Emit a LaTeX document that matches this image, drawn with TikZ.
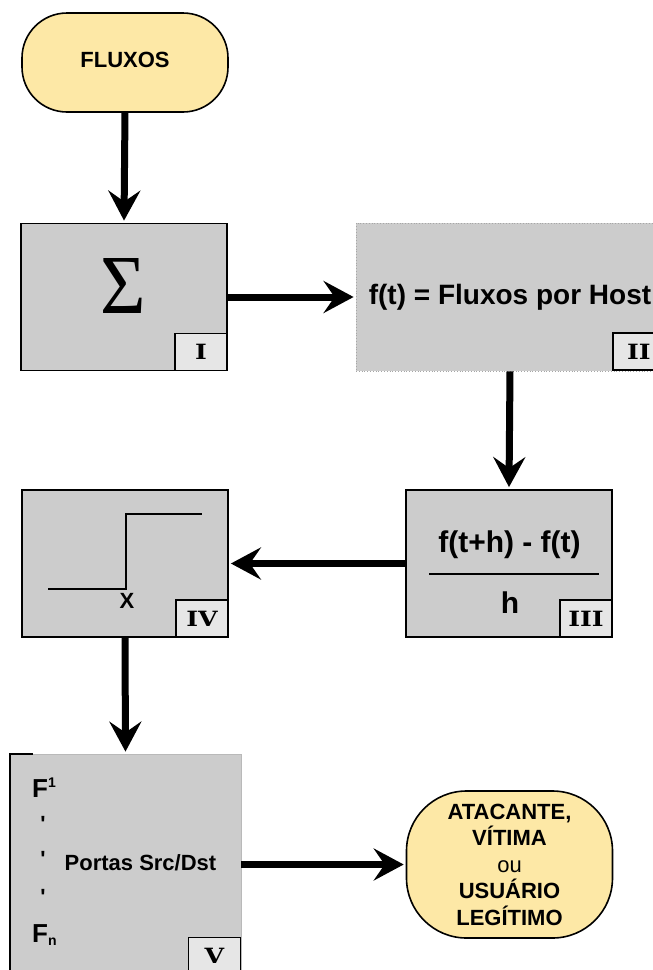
\documentclass[tikz,border=0pt]{standalone}
\usepackage{fontspec}
\setmainfont{Liberation Sans}
\newfontfamily\numfont{DejaVu Serif}
\newfontfamily\sigmafont{Liberation Serif}
\usetikzlibrary{arrows.meta}

\definecolor{termfill}{HTML}{FDE8A6}
\definecolor{boxfill}{HTML}{CCCCCC}
\definecolor{tagfill}{HTML}{E6E6E6}

% wide bold serif numerals for the stage tags
\newcommand\tagnum[1]{\scalebox{1.2}[1]{#1}}

\begin{document}
\begin{tikzpicture}[x=1pt,y=-1pt,
  terminal/.style={draw=black, line width=1.6pt, fill=termfill,
    minimum width=206pt, inner sep=0pt, align=center,
    font=\fontsize{22}{26.5}\selectfont\bfseries},
  stage/.style={draw=black, line width=1.8pt, fill=boxfill,
    minimum width=206pt, minimum height=147pt, inner sep=0pt},
  tag/.style={draw=black, line width=1.8pt, fill=tagfill,
    minimum width=52pt, minimum height=37pt, inner sep=0pt,
    font=\numfont\bfseries\fontsize{21}{21}\selectfont},
  flow/.style={line width=7pt, -{Stealth[length=30pt,width=32pt,inset=11pt]}, shorten >=2pt},
  txt/.style={inner sep=0pt, font=\fontsize{22}{22}\selectfont\bfseries},
  bigtxt/.style={inner sep=0pt, font=\fontsize{30}{30}\selectfont\bfseries},
]
\useasboundingbox (0,0) rectangle (653,970);

% start terminal
\node[terminal, minimum height=99pt, rounded corners=45pt, text depth=6pt] (start) at (125,62.5) {FLUXOS};

% stage I: summation
\node[stage] (s1) at (124,297) {};
\node[inner sep=0pt] (sig) at (123.5,286) {\scalebox{0.93}[1]{\sigmafont\fontsize{84}{84}\selectfont Σ}};
\node[tag, anchor=south east] (t1) at (s1.south east) {\tagnum{I}};

% stage II: flows per host
\node[stage, draw=gray!70, line width=0.8pt, dotted, minimum width=308pt, minimum height=148pt,
  font=\fontsize{28}{28}\selectfont\bfseries] (s2) at (510,297) {f(t) = Fluxos por Host};
\node[tag, anchor=south west] (t2) at (612,371) {\tagnum{II}};

% stage III: difference quotient
\node[stage] (s3) at (509,563.5) {};
\node[bigtxt, anchor=base] (num) at (509.5,552) {f(t+h) - f(t)};
\node[bigtxt, anchor=base] (den) at (510,613) {h};
\draw[line width=2pt] (429,574) -- (599,574);
\node[tag, anchor=south east] (t3) at (s3.south east) {\tagnum{III}};

% stage IV: threshold step
\node[stage] (s4) at (125,563.5) {};
\draw[line width=2.2pt] (48,589) -- (126,589) -- (126,514) -- (202,514);
\node[txt, font=\fontsize{22}{22}\selectfont\bfseries, anchor=base] (xl) at (127,608) {X};
\node[tag, anchor=south east] (t4) at (s4.south east) {\tagnum{IV}};

% stage V: ports per flow
\node[fill=boxfill, draw=gray!55, line width=0.8pt, minimum width=231pt, minimum height=221pt,
  inner sep=0pt] (s5) at (125.5,864.5) {};
\draw[line width=2.2pt] ([xshift=23pt]s5.north west) -- (s5.north west) -- (s5.south west);
\node[txt, font=\fontsize{26}{26}\selectfont\bfseries, anchor=base west] (f1) at (32,797)
  {F\textsuperscript{\fontsize{14}{14}\selectfont 1}};
\node[txt, anchor=base] (d1) at (43,831) {\textquotesingle};
\node[txt, anchor=base] (d2) at (43,866) {\textquotesingle};
\node[txt, anchor=base] (d3) at (43,904) {\textquotesingle};
\node[txt, anchor=base] (ports) at (140.5,870) {Portas Src/Dst};
\node[txt, font=\fontsize{26}{26}\selectfont\bfseries, anchor=base west] (fn) at (32,942)
  {F\textsubscript{\fontsize{14}{14}\selectfont n}};
\node[tag, anchor=south east] (t5) at (s5.south east) {\tagnum{V}};

% end terminal
\node[terminal, minimum height=147pt, rounded corners=60pt] (out) at (509.5,864.5)
  {ATACANTE,\\VÍTIMA\\{\mdseries ou}\\USUÁRIO\\LEGÍTIMO};

% connectors
\draw[flow] (start.south) -- (s1.north);
\draw[flow] (s1.east) -- (s2.west);
\draw[flow] (s2.south) -- (s3.north);
\draw[flow] (s3.west) -- (s4.east);
\draw[flow] (s4.south) -- (s5.north);
\draw[flow] (s5.east) -- (out.west);
\end{tikzpicture}
\end{document}
